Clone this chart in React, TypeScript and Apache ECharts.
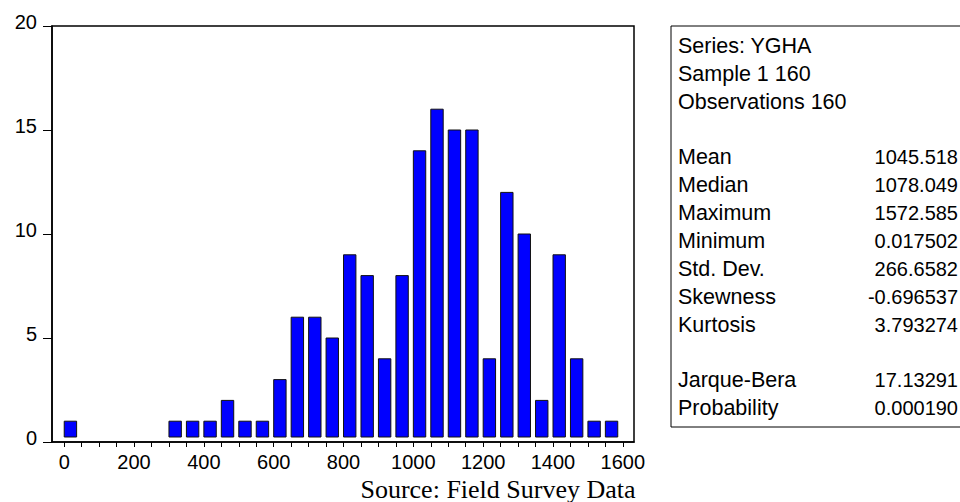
import React, { useEffect, useRef } from "react";
import * as echarts from "echarts";

// Histogram bins (left edge of each 50-wide bin) and counts
const binStarts = [0, 300, 350, 400, 450, 500, 550, 600, 650, 700, 750, 800, 850, 900, 950, 1000, 1050, 1100, 1150, 1200, 1250, 1300, 1350, 1400, 1450, 1500, 1550];
const counts = [1, 1, 1, 1, 2, 1, 1, 3, 6, 6, 5, 9, 8, 4, 8, 14, 16, 15, 15, 4, 12, 10, 2, 9, 4, 1, 1];
const binWidth = 50;

const xLabelValues = [0, 200, 400, 600, 800, 1000, 1200, 1400, 1600];
const xTickValues = [0, 50, 100, 150, 200, 250, 300, 350, 400, 450, 500, 550, 600, 650, 700, 750, 800, 850, 900, 950, 1000, 1050, 1100, 1150, 1200, 1250, 1300, 1350, 1400, 1450, 1500, 1550, 1600];

const headerLines = ["Series: YGHA", "Sample 1 160", "Observations 160"];
const statNames = ["Mean", "Median", "Maximum", "Minimum", "Std. Dev.", "Skewness", "Kurtosis"];
const statValues = ["1045.518", "1078.049", "1572.585", "0.017502", "266.6582", "-0.696537", "3.793274"];
const testNames = ["Jarque-Bera", "Probability"];
const testValues = ["17.13291", "0.000190"];

const sourceNote = "Source: Field Survey Data";

const FONT = "'Liberation Sans', Arial, sans-serif";

export default function App() {
  const ref = useRef<HTMLDivElement>(null);
  useEffect(() => {
    if (!ref.current) return;
    const chart = echarts.init(ref.current, null, { renderer: "svg" });

    const data = binStarts.map((b, i) => [b, counts[i]]);

    // stats box texts
    const rowStep = 27.85;
    const row0 = 46;
    const labelX = 678;
    const valueRight = 958;
    const texts: any[] = [];
    const rows: [string, string][] = [];
    headerLines.forEach((h) => rows.push([h, ""]));
    rows.push(["", ""]);
    statNames.forEach((n, i) => rows.push([n, statValues[i]]));
    rows.push(["", ""]);
    testNames.forEach((n, i) => rows.push([n, testValues[i]]));
    rows.forEach((r, i) => {
      const y = row0 + i * rowStep;
      if (r[0]) {
        texts.push({
          type: "text",
          x: labelX,
          y,
          style: { text: r[0], font: `21.5px ${FONT}`, fill: "#000", textAlign: "left", textVerticalAlign: "middle" },
        });
      }
      if (r[1]) {
        texts.push({
          type: "text",
          x: valueRight,
          y,
          style: { text: r[1], font: `20px ${FONT}`, fill: "#000", textAlign: "right", textVerticalAlign: "middle" },
        });
      }
    });

    chart.setOption({
      animation: false,
      backgroundColor: "#fff",
      grid: {
        left: 52,
        top: 26,
        right: 326,
        bottom: 60,
        show: true,
        borderColor: "#000",
        borderWidth: 1.5,
        backgroundColor: "transparent",
      },
      xAxis: {
        type: "value",
        min: -35,
        max: 1632,
        splitLine: { show: false },
        axisLine: { show: true, onZero: false, lineStyle: { color: "#000", width: 1.5 } },
        axisTick: { show: true, length: 5, customValues: xTickValues, lineStyle: { color: "#000", width: 1 } },
        axisLabel: {
          customValues: xLabelValues,
          formatter: (v: number) => String(v),
          color: "#000",
          fontSize: 20,
          fontFamily: FONT,
          margin: 10,
        },
      },
      yAxis: {
        type: "value",
        min: 0,
        max: 20,
        interval: 5,
        splitLine: { show: false },
        axisLine: { show: true, onZero: false, lineStyle: { color: "#000", width: 1.5 } },
        axisTick: { show: true, length: 9, lineStyle: { color: "#000", width: 1 } },
        axisLabel: {
          color: "#000",
          margin: 15,
          formatter: (v: number) => `{a|${v}}`,
          rich: {
            a: { fontSize: 20, fontFamily: FONT, color: "#000", padding: [0, 0, 9, 0] },
          },
        },
      },
      series: [
        {
          type: "custom",
          data,
          clip: false,
          renderItem: (params: any, api: any) => {
            const x0 = api.value(0);
            const v = api.value(1);
            const top = api.coord([x0, v]);
            const base = api.coord([x0 + binWidth * 0.71, 0]);
            return {
              type: "rect",
              shape: { x: top[0], y: top[1], width: base[0] - top[0], height: base[1] - top[1] - 5 },
              style: { fill: "#0000ff", stroke: "#111", lineWidth: 1 },
            };
          },
        },
      ],
      graphic: [
        {
          type: "rect",
          shape: { x: 671, y: 26, width: 330, height: 401 },
          style: { fill: "#fff", stroke: "#000", lineWidth: 1 },
        },
        ...texts,
        {
          type: "text",
          x: 498,
          y: 489,
          style: {
            text: sourceNote,
            font: "26px 'Liberation Serif', 'Times New Roman', serif",
            fill: "#000",
            textAlign: "center",
            textVerticalAlign: "middle",
          },
        },
      ],
    });
    return () => chart.dispose();
  }, []);
  return <div ref={ref} style={{ position: "fixed", left: 0, top: 0, width: 960, height: 502 }} />;
}
